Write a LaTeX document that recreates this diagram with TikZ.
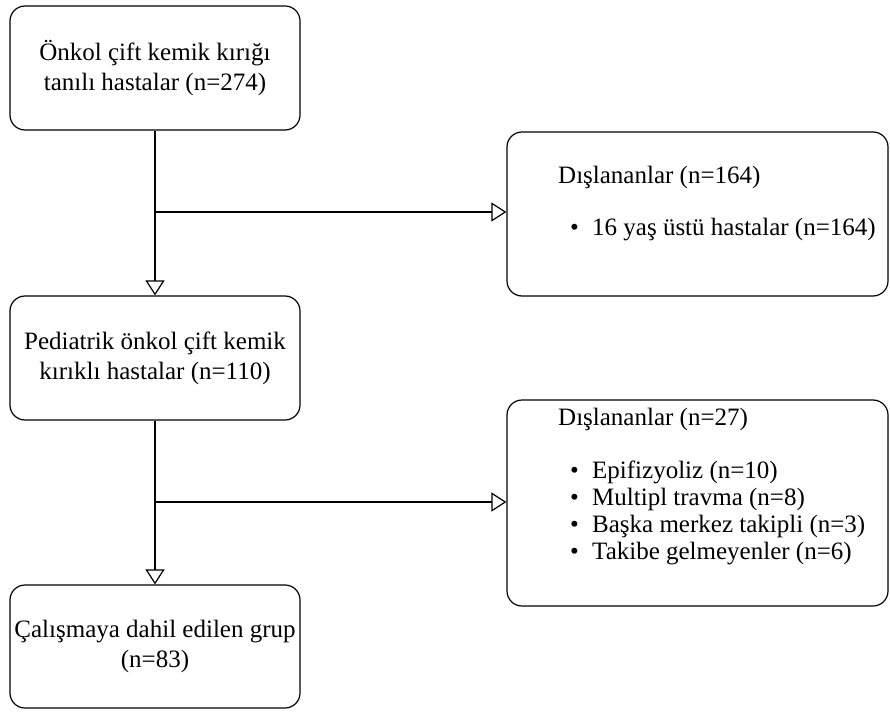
\documentclass[tikz,border=0pt]{standalone}
\usepackage{fontspec}
\setmainfont{Liberation Serif}
\usetikzlibrary{arrows.meta}

\begin{document}
\begin{tikzpicture}[x=1pt,y=-1pt,
  box/.style={draw, line width=1.2pt, rounded corners=15pt, align=center,
    font=\fontsize{25}{30}\selectfont},
  txt/.style={anchor=west, align=left, inner sep=0pt, font=\fontsize{25}{27}\selectfont},
  arr/.style={line width=1.2pt, -{Triangle[open, length=15pt, width=19pt]}}]
  \useasboundingbox (0,0) rectangle (890,711);
  % left column
  \node[box, minimum width=290pt, minimum height=124pt] (b1) at (155,68) {Önkol çift kemik kırığı\\tanılı hastalar (n=274)};
  \node[box, minimum width=290pt, minimum height=124pt] (b3) at (155,358) {Pediatrik önkol çift kemik\\kırıklı hastalar (n=110)};
  \node[box, minimum width=290pt, minimum height=123pt] (b5) at (155,646.5) {Çalışmaya dahil edilen grup\\(n=83)};
  % right column
  \node[box, minimum width=381pt, minimum height=164pt] (b2) at (697.5,214) {};
  \node[box, minimum width=381pt, minimum height=206pt] (b4) at (697.5,503) {};
  \node[txt] (h2) at (558,177) {Dışlananlar (n=164)};
  \node[txt] (l2) at (570,230) {\makebox[22pt][l]{\textbullet}16 yaş üstü hastalar (n=164)};
  \node[txt] (h4) at (558,419) {Dışlananlar (n=27)};
  \node[txt] (l4) at (570,513) {\makebox[22pt][l]{\textbullet}Epifizyoliz (n=10)\\
    \makebox[22pt][l]{\textbullet}Multipl travma (n=8)\\
    \makebox[22pt][l]{\textbullet}Başka merkez takipli (n=3)\\
    \makebox[22pt][l]{\textbullet}Takibe gelmeyenler (n=6)};
  % connectors
  \coordinate (j1) at (155,212);
  \coordinate (j2) at (155,502);
  \draw[arr] (b1) -- (b3);
  \draw[arr] (j1) -- (j1 -| b2.west);
  \draw[arr] (b3) -- (b5);
  \draw[arr] (j2) -- (j2 -| b4.west);
\end{tikzpicture}
\end{document}
